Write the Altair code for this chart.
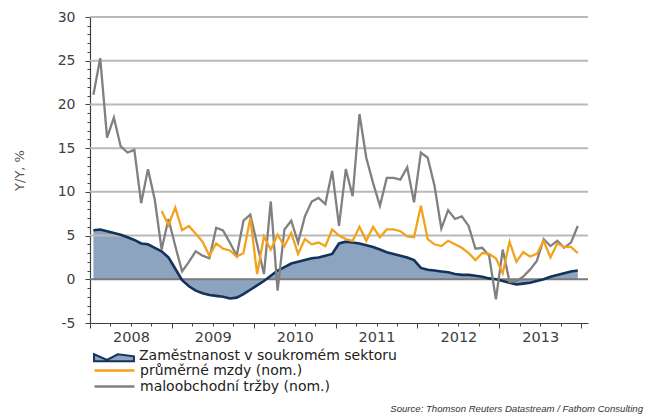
import altair as alt
import pandas as pd

# ---------------- data ----------------
months = [f"{y}-{m:02d}" for y in range(2008, 2014) for m in range(1, 13)]
years = [2008, 2009, 2010, 2011, 2012, 2013]
grid_values = [5.0, 10.0, 15.0, 20.0, 25.0, 30.0]

employment = [5.6, 5.7, 5.5, 5.3, 5.1, 4.8, 4.5, 4.1, 4.0, 3.6, 3.2, 2.5,
              1.2, -0.1, -0.8, -1.3, -1.6, -1.8, -1.9, -2.0, -2.2, -2.1, -1.7, -1.2,
              -0.7, -0.2, 0.4, 1.0, 1.4, 1.8, 2.0, 2.2, 2.4, 2.5, 2.7, 2.9,
              4.1, 4.3, 4.2, 4.1, 3.9, 3.7, 3.4, 3.1, 2.9, 2.7, 2.5, 2.2,
              1.3, 1.1, 1.0, 0.9, 0.8, 0.6, 0.5, 0.5, 0.4, 0.3, 0.1, 0.0,
              -0.2, -0.4, -0.6, -0.5, -0.4, -0.2, 0.0, 0.3, 0.5, 0.7, 0.9, 1.0]

wages = [None] * 10 + [
    7.8, 6.2,
    8.2, 5.6, 6.1, 5.2, 4.3, 2.7, 4.1, 3.5, 3.3, 2.6, 3.0, 7.0,
    0.6, 4.9, 3.4, 5.1, 3.8, 5.3, 2.9, 4.6, 4.0, 4.2, 3.8, 5.7,
    5.0, 4.6, 4.4, 6.0, 4.4, 6.0, 4.8, 5.7, 5.7, 5.5, 4.9, 4.8,
    8.4, 4.6, 4.0, 3.8, 4.4, 4.0, 3.6, 3.0, 2.2, 3.0, 2.9, 2.4,
    0.7, 4.3, 2.0, 3.1, 2.6, 2.9, 4.4, 2.5, 4.1, 3.7, 3.7, 3.0]

retail = [21.1, 25.3, 16.2, 18.5, 15.2, 14.5, 14.8, 8.7, 12.6, 9.1, 3.4, 6.9,
          3.8, 0.9, 2.0, 3.2, 2.7, 2.4, 5.9, 5.6, 4.2, 2.7, 6.7, 7.4,
          4.0, 0.6, 8.9, -1.3, 5.7, 6.7, 4.2, 7.2, 8.9, 9.3, 8.6, 12.4,
          6.1, 12.6, 9.5, 18.9, 13.9, 11.0, 8.4, 11.6, 11.6, 11.4, 12.8, 8.8,
          14.5, 13.9, 10.7, 5.8, 7.9, 6.9, 7.2, 6.1, 3.5, 3.6, 2.7, -2.3,
          3.4, -0.3, -0.2, 0.3, 1.1, 2.1, 4.6, 3.8, 4.4, 3.6, 4.2, 6.1]

LBL_EMP = "Zaměstnanost v soukromém sektoru"
LBL_WAGE = "průměrné mzdy (nom.)"
LBL_RET = "maloobchodní tržby (nom.)"
SOURCE = "Source: Thomson Reuters Datastream / Fathom Consulting"

BLUE = "#8ca4c0"
NAVY = "#15325a"
ORANGE = "#f2a31e"
GRAY = "#808080"
FONT = "DejaVu Sans"
TXT = "#404040"

rows = []
for i, mo in enumerate(months):
    for key, series in ((LBL_EMP, employment), (LBL_WAGE, wages), (LBL_RET, retail)):
        if series[i] is not None:
            rows.append({"month": mo, "t": i + 0.5, "key": key, "v": series[i]})
df = pd.DataFrame(rows)
grid_df = pd.DataFrame({"v": grid_values, "kind": ["grid"] * len(grid_values)})
zero_df = pd.DataFrame({"v": [0.0], "kind": ["zero"]})

year_arr = "[" + ",".join(str(y) for y in years) + "]"

xscale = alt.Scale(domain=[0, 73], nice=False, zero=False)
yscale = alt.Scale(domain=[-5, 30], nice=False, zero=False)

x = alt.X("t:Q", scale=xscale,
          axis=alt.Axis(values=list(range(0, 73, 3)),
                        labelExpr=f"datum.value % 12 === 6 ? {year_arr}[floor(datum.value / 12)] : ''",
                        labelOverlap=False, labelFlush=False,
                        tickSize={"condition": {"test": "datum.value % 12 === 0", "value": 5}, "value": 3},
                        tickColor="#404040", domainColor="#404040", domainWidth=1.2,
                        labelFont=FONT, labelFontSize=14.5, labelColor=TXT, labelPadding=4,
                        grid=False, title=None))

y = alt.Y("v:Q", scale=yscale,
          axis=alt.Axis(values=list(range(-5, 31)),
                        labelExpr="datum.value % 5 === 0 ? toString(datum.value) : ''",
                        labelOverlap=False, labelFlush=False, labelBound=False,
                        tickSize={"condition": {"test": "datum.value % 5 === 0", "value": 5}, "value": 3},
                        tickColor="#404040", domainColor="#404040", domainWidth=1.2,
                        labelFont=FONT, labelFontSize=14, labelColor=TXT, labelPadding=10,
                        grid=False,
                        title="Y/Y, %", titleFont=FONT, titleFontSize=13, titleFontWeight="normal",
                        titleColor="#555555", titleX=-64, titleY=153))

base = alt.Chart(df)

legend_common = dict(orient="none", legendX=16, title=None, symbolSize=196,
                     labelFont=FONT, labelFontSize=14, labelColor="#222222",
                     labelOffset=17, labelLimit=0, rowPadding=0, padding=0)

rules_df = pd.concat([grid_df, zero_df], ignore_index=True)

area = base.transform_filter(alt.datum.key == LBL_EMP).mark_area(opacity=1, interpolate="linear").encode(
    x=x, y=y, y2=alt.datum(0),
    fill=alt.Fill("key:N", scale=alt.Scale(domain=[LBL_EMP], range=[BLUE]),
                  legend=alt.Legend(legendY=331,
                                    symbolType="M-2.85,-0.25 L-1.0,0.55 L0.55,-0.25 L2.85,0.05 L2.85,0.75 L-2.85,0.75 Z",
                                    symbolStrokeColor=NAVY, symbolStrokeWidth=2,
                                    **legend_common)))

# horizontal gridlines (5..30) and the darker zero line, one rule layer
rules = alt.Chart(rules_df).mark_rule().encode(
    y=y,
    color=alt.Color("kind:N", scale=alt.Scale(domain=["grid", "zero"], range=["#b9b9b9", "#7a7a7a"]), legend=None),
    strokeWidth=alt.StrokeWidth("kind:N", scale=alt.Scale(domain=["grid", "zero"], range=[2.0, 2.0]), legend=None),
)

emp_line = base.transform_filter(alt.datum.key == LBL_EMP).mark_line(color=NAVY, strokeWidth=2.6).encode(
    x=x, y=y)

lines = base.transform_filter((alt.datum.key == LBL_WAGE) | (alt.datum.key == LBL_RET)).mark_line(strokeWidth=2.3).encode(
    x=x, y=y,
    color=alt.Color("key:N", scale=alt.Scale(domain=[LBL_WAGE, LBL_RET], range=[ORANGE, GRAY]),
                    legend=alt.Legend(legendY=345, symbolType="M-2.85,0 L2.85,0",
                                      symbolStrokeWidth=2.5, **legend_common)),
    order=alt.Order("key:N", sort="descending"),
)

source = alt.Chart(pd.DataFrame({"s": [SOURCE]})).mark_text(
    align="right", baseline="alphabetic", font="Liberation Sans", fontStyle="italic",
    fontSize=9.6, color="#333333").encode(text="s:N", x=alt.value(553), y=alt.value(395))

chart = alt.layer(area, rules, emp_line, lines, source).resolve_scale(
    color="independent", fill="independent", strokeWidth="independent"
).properties(
    width=498, height=306,
    padding={"left": 90, "top": 17, "right": 58, "bottom": 93},
    autosize=alt.AutoSizeParams(type="none"),
    background="white",
).configure_view(stroke=None)

chart.save("out.html", embed_options={"renderer": "svg", "actions": False})
